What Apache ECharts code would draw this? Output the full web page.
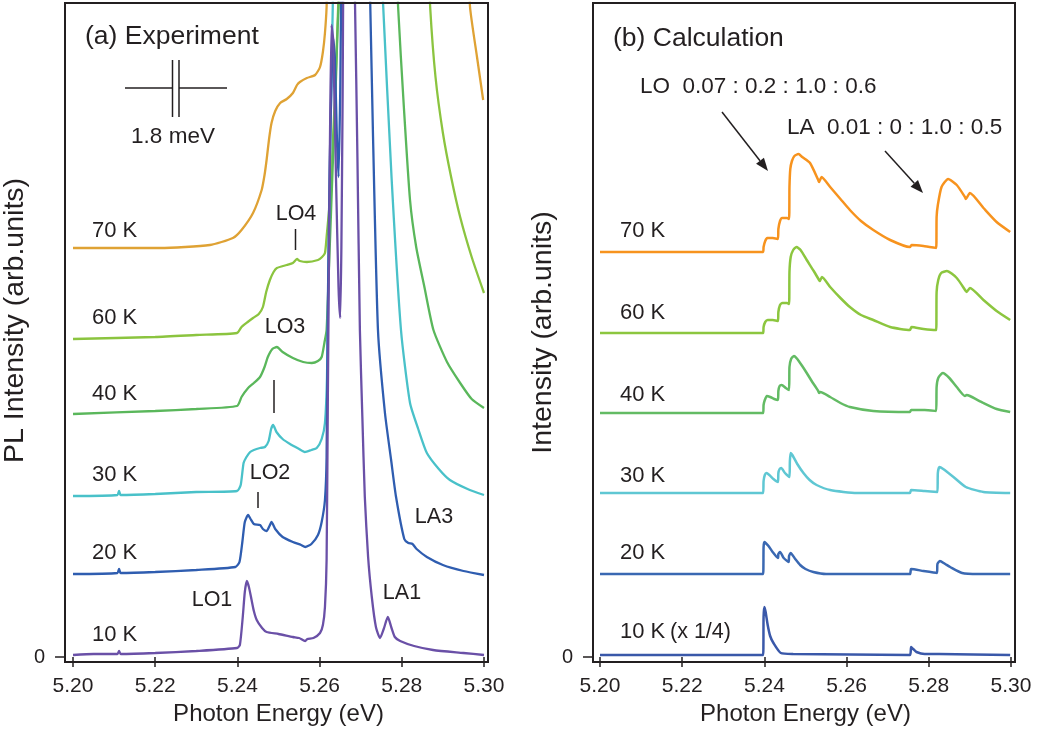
<!DOCTYPE html>
<html>
<head>
<meta charset="utf-8">
<title>PL spectra: experiment vs calculation</title>
<script src="https://cdn.jsdelivr.net/npm/echarts@6.0.0/dist/echarts.min.js"></script>
<style>
  html, body { margin: 0; padding: 0; background: #fff; }
  #chart { width: 1039px; height: 744px; }
</style>
</head>
<body>
<div id="chart"></div>
<script>
// photon energy (eV), intensity (arb. units, curves offset vertically)
var exp10K = [[5.2000, 2], [5.2050, 3], [5.2108, 3], [5.2112, 6], [5.2116, 3], [5.2200, 4], [5.2300, 6], [5.2399, 9], [5.2406, 12], [5.2413, 40], [5.2418, 65], [5.2423, 76], [5.2428, 70], [5.2434, 58], [5.2440, 46], [5.2447, 37], [5.2460, 29], [5.2471, 25], [5.2500, 23], [5.2535, 20], [5.2550, 19], [5.2565, 16], [5.2570, 18], [5.2585, 19], [5.2601, 24], [5.2608, 32], [5.2613, 50], [5.2617, 97], [5.2620, 257], [5.2625, 507], [5.2629, 632], [5.2633, 617], [5.2640, 477], [5.2646, 370], [5.2650, 339], [5.2653, 410], [5.2656, 560], [5.2659, 720], [5.2672, 820], [5.2683, 700], [5.2686, 657], [5.2692, 500], [5.2698, 327], [5.2704, 240], [5.2710, 160], [5.2718, 100], [5.2727, 60], [5.2737, 30], [5.2747, 19], [5.2756, 28], [5.2766, 40], [5.2775, 29], [5.2783, 20], [5.2796, 16], [5.2830, 11], [5.2876, 7], [5.2950, 4], [5.3000, 2]];
var exp20K = [[5.2000, 83], [5.2108, 84], [5.2112, 88], [5.2116, 84], [5.2200, 85], [5.2300, 87], [5.2395, 90], [5.2405, 95], [5.2412, 115], [5.2418, 135], [5.2426, 142], [5.2432, 138], [5.2440, 133], [5.2455, 132], [5.2462, 128], [5.2471, 126], [5.2478, 131], [5.2483, 135], [5.2492, 128], [5.2510, 120], [5.2535, 115], [5.2555, 112], [5.2565, 110], [5.2580, 113], [5.2596, 122], [5.2605, 135], [5.2613, 157], [5.2617, 200], [5.2620, 350], [5.2625, 500], [5.2633, 619], [5.2637, 600], [5.2642, 520], [5.2646, 480], [5.2650, 560], [5.2655, 700], [5.2690, 900], [5.2720, 700], [5.2723, 657], [5.2730, 520], [5.2742, 327], [5.2759, 244], [5.2774, 197], [5.2786, 160], [5.2806, 118], [5.2816, 114], [5.2826, 113], [5.2836, 108], [5.2861, 100], [5.2900, 92], [5.2950, 86], [5.3000, 82]];
var exp30K = [[5.2000, 161], [5.2108, 162], [5.2112, 166], [5.2116, 162], [5.2200, 163], [5.2300, 165], [5.2399, 166], [5.2408, 172], [5.2415, 194], [5.2422, 200], [5.2431, 205], [5.2440, 207], [5.2455, 209], [5.2467, 210], [5.2476, 216], [5.2482, 228], [5.2487, 232], [5.2495, 225], [5.2510, 218], [5.2528, 213], [5.2550, 208], [5.2564, 205], [5.2580, 207], [5.2593, 209], [5.2605, 218], [5.2613, 234], [5.2618, 280], [5.2622, 400], [5.2627, 540], [5.2632, 650], [5.2636, 720], [5.2700, 900], [5.2750, 700], [5.2754, 657], [5.2775, 480], [5.2798, 327], [5.2820, 254], [5.2840, 228], [5.2861, 204], [5.2890, 188], [5.2917, 177], [5.2960, 168], [5.3000, 162]];
var exp40K = [[5.2000, 243], [5.2200, 246], [5.2300, 248], [5.2399, 251], [5.2410, 260], [5.2426, 269], [5.2440, 274], [5.2455, 280], [5.2466, 290], [5.2474, 300], [5.2485, 308], [5.2496, 310], [5.2510, 305], [5.2535, 299], [5.2560, 295], [5.2581, 294], [5.2596, 296], [5.2605, 300], [5.2612, 315], [5.2617, 327], [5.2622, 380], [5.2630, 470], [5.2640, 580], [5.2648, 660], [5.2720, 900], [5.2788, 700], [5.2791, 650], [5.2805, 550], [5.2820, 457], [5.2835, 410], [5.2855, 370], [5.2877, 327], [5.2910, 295], [5.2942, 274], [5.2970, 258], [5.3000, 249]];
var exp60K = [[5.2000, 318], [5.2200, 320], [5.2300, 322], [5.2399, 324], [5.2410, 330], [5.2425, 335], [5.2438, 339], [5.2452, 343], [5.2462, 350], [5.2470, 365], [5.2479, 377], [5.2488, 385], [5.2496, 389], [5.2520, 392], [5.2535, 394], [5.2545, 398], [5.2552, 396], [5.2569, 395], [5.2596, 397], [5.2606, 400], [5.2613, 404], [5.2617, 420], [5.2625, 457], [5.2637, 557], [5.2645, 649], [5.2648, 700], [5.2760, 900], [5.2865, 700], [5.2869, 650], [5.2882, 580], [5.2900, 524], [5.2920, 480], [5.2942, 440], [5.2970, 400], [5.3000, 364]];
var exp70K = [[5.2000, 409], [5.2212, 409], [5.2333, 412], [5.2389, 419], [5.2410, 427], [5.2438, 444], [5.2459, 467], [5.2466, 482], [5.2471, 497], [5.2477, 518], [5.2483, 534], [5.2492, 546], [5.2504, 554], [5.2520, 558], [5.2535, 564], [5.2545, 572], [5.2552, 575], [5.2569, 579], [5.2589, 582], [5.2601, 590], [5.2608, 605], [5.2613, 624], [5.2617, 650], [5.2620, 700], [5.2800, 900], [5.2963, 700], [5.2966, 650], [5.2983, 600], [5.2998, 557]];

var calc10K = [[5.2000, 2], [5.2397, 2], [5.2398, 40], [5.2400, 50], [5.2403, 45], [5.2408, 32], [5.2414, 21], [5.2422, 14], [5.2440, 4], [5.2470, 3], [5.2754, 2], [5.2757, 10], [5.2762, 8], [5.2770, 5], [5.2790, 3], [5.2825, 3], [5.2998, 2]];
var calc20K = [[5.2000, 83], [5.2397, 83], [5.2398, 110], [5.2400, 115], [5.2403, 114], [5.2410, 111], [5.2420, 105], [5.2433, 99], [5.2434, 103], [5.2438, 105], [5.2447, 99], [5.2459, 95], [5.2460, 101], [5.2464, 104], [5.2475, 98], [5.2487, 92], [5.2500, 88], [5.2519, 85], [5.2550, 83], [5.2754, 83], [5.2757, 88], [5.2787, 86], [5.2820, 84], [5.2821, 93], [5.2827, 96], [5.2840, 93], [5.2852, 90], [5.2881, 84], [5.2920, 83], [5.2998, 83]];
var calc30K = [[5.2000, 164], [5.2397, 164], [5.2398, 176], [5.2401, 182], [5.2405, 184], [5.2412, 182], [5.2422, 178], [5.2433, 175], [5.2434, 184], [5.2437, 188], [5.2441, 189], [5.2450, 184], [5.2461, 180], [5.2462, 196], [5.2464, 204], [5.2468, 202], [5.2480, 193], [5.2495, 184], [5.2510, 177], [5.2527, 172], [5.2560, 167], [5.2625, 164], [5.2754, 164], [5.2757, 167], [5.2790, 166], [5.2821, 165], [5.2822, 184], [5.2826, 190], [5.2835, 188], [5.2860, 180], [5.2890, 170], [5.2933, 165], [5.2998, 164]];
var calc40K = [[5.2000, 244], [5.2397, 244], [5.2398, 252], [5.2401, 257], [5.2406, 261], [5.2414, 260], [5.2424, 258], [5.2433, 257], [5.2434, 266], [5.2437, 271], [5.2442, 272], [5.2452, 269], [5.2460, 267], [5.2461, 290], [5.2465, 298], [5.2472, 301], [5.2480, 298], [5.2492, 291], [5.2503, 284], [5.2515, 276], [5.2531, 266], [5.2533, 264], [5.2536, 265], [5.2560, 260], [5.2585, 254], [5.2608, 250], [5.2665, 246], [5.2754, 245], [5.2757, 247], [5.2790, 247], [5.2818, 246], [5.2819, 270], [5.2823, 279], [5.2834, 284], [5.2850, 279], [5.2868, 270], [5.2888, 261], [5.2892, 262], [5.2900, 261], [5.2933, 254], [5.2965, 248], [5.2998, 245]];
var calc60K = [[5.2000, 324], [5.2397, 324], [5.2398, 330], [5.2402, 335], [5.2408, 337], [5.2420, 337], [5.2433, 336], [5.2434, 345], [5.2438, 352], [5.2444, 354], [5.2455, 354], [5.2460, 353], [5.2461, 385], [5.2464, 400], [5.2470, 407], [5.2478, 410], [5.2488, 407], [5.2503, 397], [5.2520, 386], [5.2533, 377], [5.2535, 376], [5.2540, 380], [5.2560, 370], [5.2585, 359], [5.2608, 350], [5.2635, 342], [5.2665, 337], [5.2706, 330], [5.2754, 327], [5.2758, 330], [5.2787, 328], [5.2818, 327], [5.2819, 365], [5.2823, 377], [5.2830, 384], [5.2844, 386], [5.2868, 379], [5.2890, 366], [5.2892, 365], [5.2900, 369], [5.2933, 357], [5.2965, 346], [5.2998, 337]];
var calc70K = [[5.2000, 405], [5.2397, 405], [5.2398, 410], [5.2402, 416], [5.2407, 419], [5.2420, 419], [5.2433, 418], [5.2434, 428], [5.2438, 436], [5.2443, 439], [5.2455, 439], [5.2460, 438], [5.2461, 470], [5.2463, 488], [5.2467, 496], [5.2473, 501], [5.2483, 503], [5.2492, 500], [5.2511, 494], [5.2531, 477], [5.2533, 475], [5.2539, 480], [5.2560, 470], [5.2585, 458], [5.2608, 447], [5.2635, 436], [5.2665, 427], [5.2706, 417], [5.2754, 410], [5.2758, 412], [5.2787, 411], [5.2818, 409], [5.2819, 440], [5.2822, 452], [5.2831, 470], [5.2847, 478], [5.2868, 472], [5.2888, 460], [5.2890, 458], [5.2900, 464], [5.2933, 449], [5.2965, 435], [5.2998, 425]];

var tempNames = ['10 K', '20 K', '30 K', '40 K', '60 K', '70 K'];
var expColors = ['#6a50a7', '#2f5db0', '#49c1c9', '#5ab75b', '#8bc43f', '#dfa234'];
var calcColors = ['#3a58a9', '#3a68b2', '#5fc7d3', '#63bb64', '#8cc63f', '#f7931e'];
var expData = [exp10K, exp20K, exp30K, exp40K, exp60K, exp70K];
var calcData = [calc10K, calc20K, calc30K, calc40K, calc60K, calc70K];

var FONT = '"Liberation Sans", Arial, Helvetica, sans-serif';
var INK = '#231f20';

var chart = echarts.init(document.getElementById('chart'));

function xAxisFor(idx) {
    return {
        gridIndex: idx, type: 'value', min: 5.2, max: 5.3, interval: 0.02,
        axisLine: { show: false },
        axisTick: { show: true, length: 10, lineStyle: { color: INK, width: 1.5 } },
        axisLabel: {
            margin: 14, fontSize: 21, color: INK, fontFamily: FONT,
            formatter: function (v) { return v.toFixed(2); }
        },
        splitLine: { show: false },
        name: 'Photon Energy (eV)', nameLocation: 'middle', nameGap: 40,
        nameTextStyle: { fontSize: 24, color: INK, fontFamily: FONT }
    };
}

function yAxisFor(idx, name, offset, pad) {
    return {
        gridIndex: idx, type: 'value', min: -5, max: 654, offset: offset,
        axisLine: { show: false },
        axisTick: { show: true, length: 10, customValues: [0], lineStyle: { color: INK, width: 1.5 } },
        axisLabel: { customValues: [0], margin: 20, fontSize: 20, color: INK, fontFamily: FONT },
        splitLine: { show: false },
        name: name, nameLocation: 'middle', nameGap: 23,
        nameTextStyle: { fontSize: 28.5, color: INK, fontFamily: FONT, padding: [0, 0, 0, pad] }
    };
}

var series = [];
for (var i = tempNames.length - 1; i >= 0; i--) {
    series.push({
        name: 'exp ' + tempNames[i], type: 'line', xAxisIndex: 0, yAxisIndex: 0,
        data: expData[i], showSymbol: false, symbol: 'none', smooth: 0.2,
        lineStyle: { color: expColors[i], width: 2.3 }, z: 2 + (6 - i)
    });
}
for (var j = tempNames.length - 1; j >= 0; j--) {
    series.push({
        name: 'calc ' + tempNames[j], type: 'line', xAxisIndex: 1, yAxisIndex: 1,
        data: calcData[j], showSymbol: false, symbol: 'none', smooth: 0.2,
        lineStyle: { color: calcColors[j], width: 2.5 }, z: 2
    });
}

// annotations
function txt(x, y, s, size, align) {
    return {
        type: 'text', x: x, y: y, z: 20,
        style: { text: s, fontSize: size, fontFamily: FONT, fill: INK, align: align || 'left', verticalAlign: 'middle' }
    };
}
function seg(x1, y1, x2, y2, w) {
    return { type: 'line', z: 20, shape: { x1: x1, y1: y1, x2: x2, y2: y2 }, style: { stroke: INK, lineWidth: w || 1.5 } };
}
function arrow(x1, y1, x2, y2) {
    var a = Math.atan2(y2 - y1, x2 - x1), L = 13, W = 5;
    var bx = x2 - L * Math.cos(a), by = y2 - L * Math.sin(a);
    return [
        seg(x1, y1, bx, by, 1.5),
        { type: 'polygon', z: 20, shape: { points: [[x2, y2], [bx + W * Math.sin(a), by - W * Math.cos(a)], [bx - W * Math.sin(a), by + W * Math.cos(a)]] }, style: { fill: INK } }
    ];
}

var graphics = [
    { type: 'rect', z: 15, shape: { x: 65, y: 3, width: 423, height: 659 }, style: { fill: 'none', stroke: INK, lineWidth: 2 } },
    { type: 'rect', z: 15, shape: { x: 593, y: 3, width: 422, height: 659 }, style: { fill: 'none', stroke: INK, lineWidth: 2 } },
    txt(85, 37, '(a) Experiment', 26.5),
    txt(613, 39, '(b) Calculation', 26.5),
    // 1.8 meV scale bar
    seg(125, 88, 172, 88), seg(179, 88, 227, 88), seg(172.5, 60, 172.5, 117), seg(179, 60, 179, 117),
    txt(173, 137, '1.8 meV', 22.5, 'center'),
    // peak labels
    txt(296, 214, 'LO4', 21.5, 'center'), seg(295.5, 229, 295.5, 250),
    txt(285, 327, 'LO3', 21.5, 'center'), seg(274, 380, 274, 413),
    txt(270, 473, 'LO2', 21.5, 'center'), seg(258, 492, 258, 508),
    txt(212, 600, 'LO1', 21.5, 'center'),
    txt(402, 593, 'LA1', 21.5, 'center'),
    txt(434, 517, 'LA3', 21.5, 'center'),
    txt(640, 87, 'LO  0.07 : 0.2 : 1.0 : 0.6', 22.5),
    txt(787, 128, 'LA  0.01 : 0 : 1.0 : 0.5', 22.5),
    txt(670, 632, '(x 1/4)', 21.5)
];
graphics = graphics.concat(arrow(722, 112, 768, 171), arrow(885, 151, 923, 193));

var expLabelY = [635, 553, 475, 394, 318, 231];
var calcLabelY = [632, 553, 476, 395, 313, 231];
for (var k = 0; k < tempNames.length; k++) {
    graphics.push(txt(92, expLabelY[k], tempNames[k], 22));
    graphics.push(txt(620, calcLabelY[k], tempNames[k], 22));
}

chart.setOption({
    animation: false,
    backgroundColor: '#fff',
    grid: [
        { left: 73, right: 555, top: 3, bottom: 82 },
        { left: 600, right: 28, top: 3, bottom: 82 }
    ],
    xAxis: [xAxisFor(0), xAxisFor(1)],
    yAxis: [yAxisFor(0, 'PL Intensity (arb.units)', 8, 24), yAxisFor(1, 'Intensity (arb.units)', 7, 0)],
    series: series,
    graphic: graphics
});
</script>
</body>
</html>
